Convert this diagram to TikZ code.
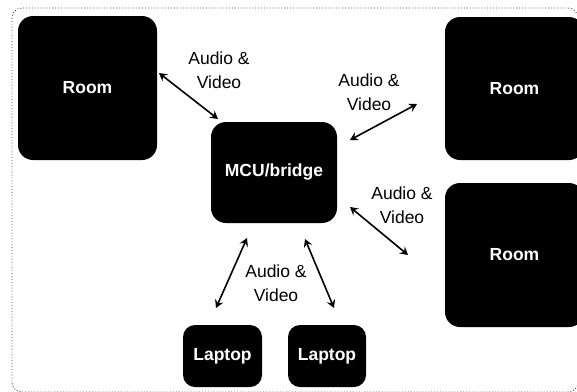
\documentclass[tikz,border=0pt]{standalone}
\usepackage{fontspec}
\setmainfont{Liberation Sans}
\usetikzlibrary{arrows.meta}

\tikzset{
  box/.style={fill=black, text=white, inner sep=0pt, rounded corners=15pt, font=\bfseries\fontsize{17.5}{21}\selectfont},
  av/.style={align=center, font=\fontsize{17.5}{24}\selectfont},
  link/.style={{Stealth[length=8pt,width=9pt,inset=3pt]}-{Stealth[length=8pt,width=9pt,inset=3pt]}, line width=1.6pt}
}

\begin{document}
\begin{tikzpicture}[x=1pt, y=-1pt]
			\useasboundingbox (0,0) rectangle (577,391);
			\draw[dotted, black!75, line width=0.9pt, rounded corners=10pt] (12,8) rectangle (578,392);

			\node (room1) [box, minimum width=139pt, minimum height=144pt] at (87.5,88){Room};
			\node (room2) [box, minimum width=139pt, minimum height=143pt] at (514.5,88.5){Room};
			\node (room3) [box, minimum width=139pt, minimum height=144pt] at (514.5,255){Room};
			\node (mcu) [box, minimum width=126pt, minimum height=101pt] at (274,172.5){MCU/bridge};
			\node (lap1) [box, rounded corners=12pt, minimum width=79pt, minimum height=62pt] at (222.5,356){Laptop};
			\node (lap2) [box, rounded corners=12pt, minimum width=78pt, minimum height=62pt] at (327,356){Laptop};

			\coordinate (r1) at (159,73);
			\coordinate (m1) at (218,119);
			\coordinate (m2) at (350,140);
			\coordinate (r2) at (417,104);
			\coordinate (m3) at (350,207);
			\coordinate (r3) at (408,255);
			\coordinate (m4) at (247,238);
			\coordinate (l1) at (216,308);
			\coordinate (m5) at (305,239);
			\coordinate (l2) at (334,308);

			\draw[link] (r1)--(m1);
			\draw[link] (m2)--(r2);
			\draw[link] (m3)--(r3);
			\draw[link] (m4)--(l1);
			\draw[link] (m5)--(l2);

			\node (av1) [av] at (219,70.5){Audio \&\\Video};
			\node (av2) [av] at (369,92){Audio \&\\Video};
			\node (av3) [av] at (402,205){Audio \&\\Video};
			\node (av4) [av] at (276,283){Audio \&\\Video};
\end{tikzpicture}
\end{document}
